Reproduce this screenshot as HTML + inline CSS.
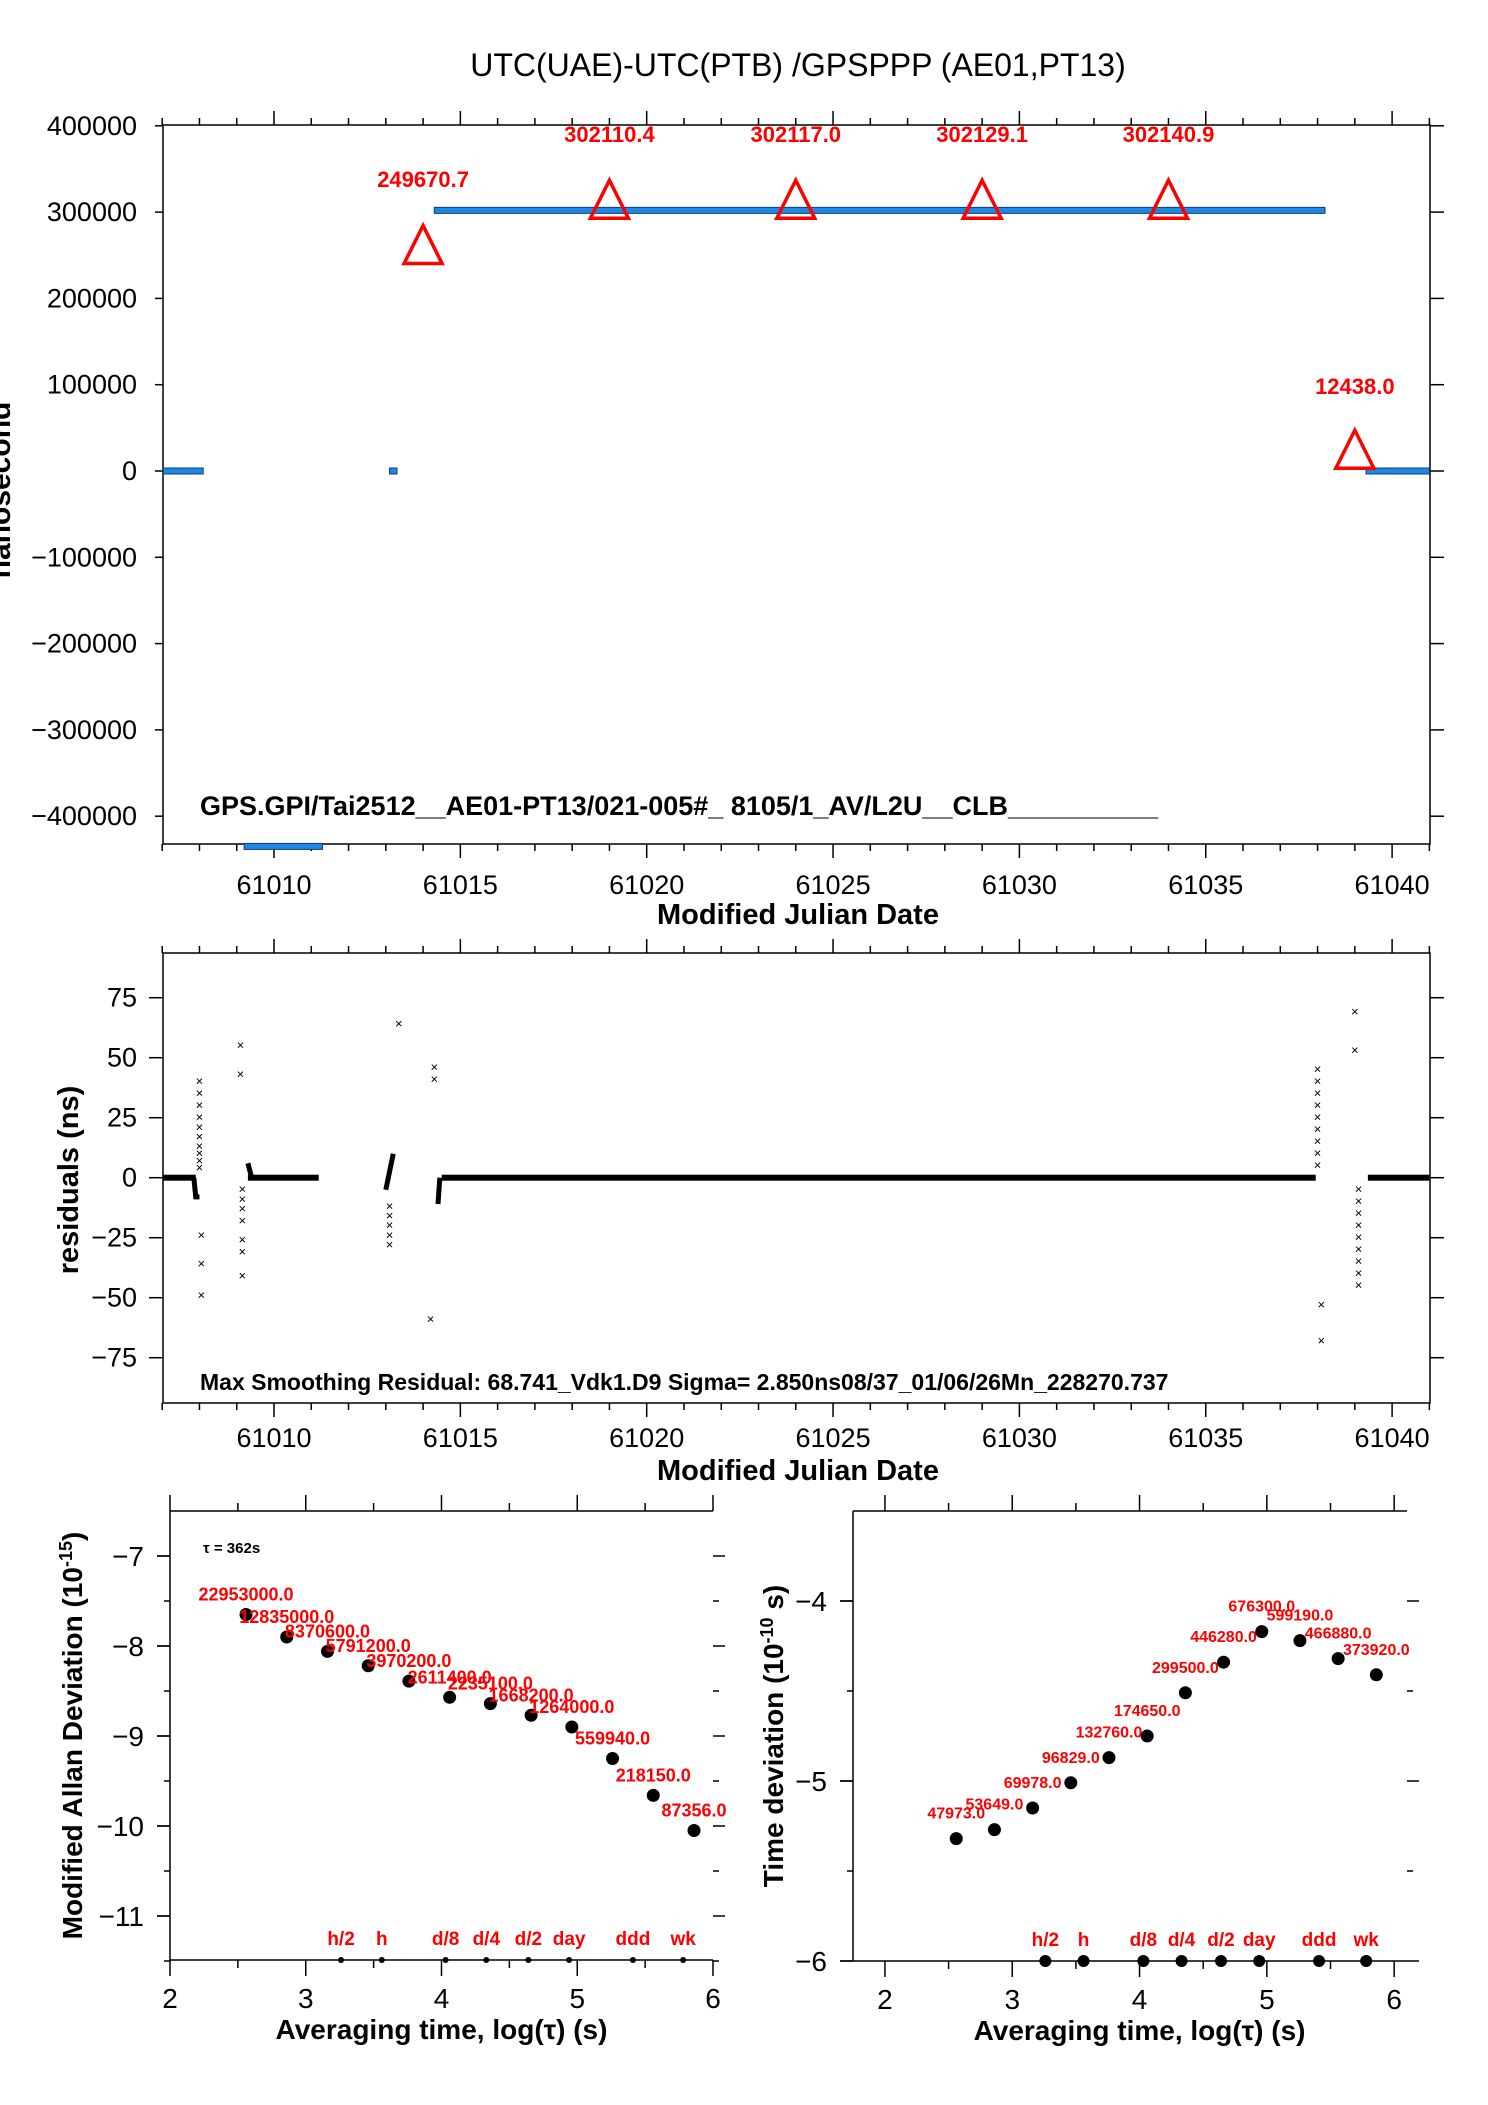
<!DOCTYPE html>
<html><head><meta charset="utf-8"><style>
html,body{margin:0;padding:0;background:#fff}
svg{display:block;font-family:"Liberation Sans",sans-serif}
</style></head><body>
<svg id="s" width="1488" height="2105" viewBox="0 0 1488 2105" xmlns="http://www.w3.org/2000/svg">
<text x="798" y="76" font-size="32" text-anchor="middle">UTC(UAE)-UTC(PTB)  /GPSPPP  (AE01,PT13)</text>
</svg>
<script>
// ---------- data ----------
const topSegX0=[61007.03,61013.1,61014.3,61039.3,61009.2];
const topSegX1=[61008.1,61013.3,61038.2,61041.0,61011.3];
const topSegY=[0,0,302000,0,-435000];
const triX=[61014,61019,61024,61029,61034,61039];
const triY=[249670.7,302110.4,302117.0,302129.1,302140.9,12438.0];
const triLabels=["249670.7","302110.4","302117.0","302129.1","302140.9","12438.0"];
const topYTicks=[400000,300000,200000,100000,0,-100000,-200000,-300000,-400000];
const mjdTicks=[61010,61015,61020,61025,61030,61035,61040];
const resSegX0=[61007.03,61009.3,61014.5,61039.35];
const resSegX1=[61007.9,61011.2,61037.95,61041.0];
const outX=[61008,61008,61008,61008,61008,61008,61008,61008,61008,61008,61008.05,61008.05,61008.05,
61009.1,61009.1,61009.15,61009.15,61009.15,61009.15,61009.15,61009.15,61009.15,
61013.1,61013.1,61013.1,61013.1,61013.1,61013.35,61014.3,61014.3,61014.2,
61038,61038,61038,61038,61038,61038,61038,61038,61038,61038.1,61038.1,
61039,61039,61039.1,61039.1,61039.1,61039.1,61039.1,61039.1,61039.1,61039.1,61039.1];
const outY=[40,35,30,25,21,17,13,10,7,4,-24,-36,-49,
55,43,-5,-9,-13,-18,-26,-31,-41,
-12,-16,-20,-24,-28,64,46,41,-59,
45,40,35,30,25,20,15,10,5,-53,-68,
69,53,-5,-10,-15,-20,-25,-30,-35,-40,-45];
const resYTicks=[75,50,25,0,-25,-50,-75];
const logTau=[2.56,2.86,3.16,3.46,3.76,4.06,4.36,4.66,4.96,5.26,5.56,5.86];
const madev=[-7.65,-7.9,-8.06,-8.22,-8.39,-8.57,-8.64,-8.77,-8.9,-9.25,-9.66,-10.05];
const madevLabels=["22953000.0","12835000.0","8370600.0","5791200.0","3970200.0","2611400.0","2235100.0","1668200.0","1264000.0","559940.0","218150.0","87356.0"];
const tdev=[-5.32,-5.27,-5.15,-5.01,-4.87,-4.75,-4.51,-4.34,-4.17,-4.22,-4.32,-4.41];
const tdevLabels=["47973.0","53649.0","69978.0","96829.0","132760.0","174650.0","299500.0","446280.0","676300.0","599190.0","466880.0","373920.0"];
const markX=[3.26,3.56,4.03,4.33,4.64,4.94,5.41,5.78];
const markLabels=["h/2","h","d/8","d/4","d/2","day","ddd","wk"];
const logTicks=[2,3,4,5,6];
const adevYTicks=[-7,-8,-9,-10,-11];
const tdevYTicks=[-4,-5,-6];

// ---------- helpers ----------
const S=document.getElementById('s');const NS="http://www.w3.org/2000/svg";
function mk(t,a,txt){const e=document.createElementNS(NS,t);for(const k in a)e.setAttribute(k,a[k]);if(txt!==undefined)e.textContent=txt;S.appendChild(e);return e;}
function ln(x1,y1,x2,y2,c,w){return mk('line',{x1,y1,x2,y2,stroke:c||'#000','stroke-width':w||1.5});}
const fmt=v=>(v<0?'\u2212':'')+Math.abs(v);

// ---------- top plot ----------
const T={l:163,r:1430,t:125,b:844};
const tx=m=>274+(m-61010)*37.27;
const ty=v=>471-v*0.000863;
let e=mk('rect',{x:T.l,y:T.t,width:T.r-T.l,height:T.b-T.t,fill:'none',stroke:'#000','stroke-width':1.5});

for(let m=61007;m<=61041;m++){const x=tx(m);if(x<T.l-1||x>T.r+1)continue;const big=m%5==0;
 ln(x,T.t,x,T.t-(big?14:7));ln(x,T.b,x,T.b+(big?14:7));}
mjdTicks.forEach(m=>{e=mk('text',{x:tx(m),y:894,'font-size':27,'text-anchor':'middle'},m);
 });
topYTicks.forEach(v=>{const y=ty(v);ln(T.l-8,y,T.l,y);ln(T.r,y,T.r+14,y);
 e=mk('text',{x:T.l-26,y:y+9,'font-size':27,'text-anchor':'end'},fmt(v));
 });
for(let i=0;i<topSegY.length;i++){e=mk('rect',{x:tx(topSegX0[i]),y:ty(topSegY[i])-3,width:tx(topSegX1[i])-tx(topSegX0[i]),height:6,fill:'#1e88e5',stroke:'#0d3d80','stroke-width':1});
 }
for(let i=0;i<triX.length;i++){const x=tx(triX[i]),y=ty(triY[i]);
 e=mk('polygon',{points:`${x},${y-30} ${x-19},${y+8} ${x+19},${y+8}`,fill:'none',stroke:'#ff0000','stroke-width':3.5});
 
 const ly=i==0?187:(i==5?394:142);
 e=mk('text',{x:x,y:ly,'font-size':22,'font-weight':'bold',fill:'#ff0000','text-anchor':'middle'},triLabels[i]);
 }
e=mk('text',{x:200,y:815,'font-size':27,'font-weight':'bold'},"GPS.GPI/Tai2512__AE01-PT13/021-005#_  8105/1_AV/L2U__CLB__________");

e=mk('text',{x:0,y:0,'font-size':30,'font-weight':'bold','text-anchor':'middle',transform:'translate(10,490) rotate(-90)'},'nanosecond');

e=mk('text',{x:798,y:924,'font-size':29,'font-weight':'bold','text-anchor':'middle'},'Modified Julian Date');


// ---------- residual plot ----------
const R={l:163,r:1430,t:953,b:1403};
const ry=v=>1177.7-v*2.4;
e=mk('rect',{x:R.l,y:R.t,width:R.r-R.l,height:R.b-R.t,fill:'none',stroke:'#000','stroke-width':1.5});

for(let m=61007;m<=61041;m++){const x=tx(m);if(x<R.l-1||x>R.r+1)continue;const big=m%5==0;
 ln(x,R.t,x,R.t-(big?14:7));ln(x,R.b,x,R.b+(big?14:7));}
mjdTicks.forEach(m=>{e=mk('text',{x:tx(m),y:1447,'font-size':27,'text-anchor':'middle'},m);
 });
resYTicks.forEach(v=>{const y=ry(v);ln(R.l-14,y,R.l,y);ln(R.r,y,R.r+14,y);
 e=mk('text',{x:R.l-26,y:y+9,'font-size':27,'text-anchor':'end'},fmt(v));
 });
for(let i=0;i<resSegX0.length;i++){e=mk('rect',{x:tx(resSegX0[i]),y:ry(0)-3,width:tx(resSegX1[i])-tx(resSegX0[i]),height:6,fill:'#000'});
 }
e=mk('polyline',{points:`${tx(61007.85)},${ry(0)} ${tx(61007.9)},${ry(-8)} ${tx(61008.0)},${ry(-8)}`,fill:'none',stroke:'#000','stroke-width':5});

e=mk('polyline',{points:`${tx(61009.3)},${ry(6)} ${tx(61009.4)},${ry(0)}`,fill:'none',stroke:'#000','stroke-width':5});

e=mk('polyline',{points:`${tx(61013.0)},${ry(-5)} ${tx(61013.2)},${ry(10)}`,fill:'none',stroke:'#000','stroke-width':5});

e=mk('polyline',{points:`${tx(61014.4)},${ry(-11)} ${tx(61014.45)},${ry(0)}`,fill:'none',stroke:'#000','stroke-width':5});

for(let i=0;i<outX.length;i++){const x=tx(outX[i]),y=ry(outY[i]);
 e=mk('text',{x:x,y:y+4,'font-size':13,'text-anchor':'middle'},'\u00d7');
 }
e=mk('text',{x:200,y:1390,'font-size':23,'font-weight':'bold'},"Max Smoothing Residual: 68.741_Vdk1.D9  Sigma= 2.850ns08/37_01/06/26Mn_228270.737");

e=mk('text',{x:0,y:0,'font-size':29,'font-weight':'bold','text-anchor':'middle',transform:'translate(78,1180) rotate(-90)'},'residuals (ns)');

e=mk('text',{x:798,y:1480,'font-size':29,'font-weight':'bold','text-anchor':'middle'},'Modified Julian Date');


// ---------- stability plots ----------
function stab(P,yticks,vals,labels,name,ylab,ylx,fs,dy,big){
 const X=v=>P.l+(v-P.xmin)*P.kx, Y=v=>P.y0-(v-P.v0)*P.ky;
 ln(P.l,P.t,P.r,P.t);ln(P.l,P.t,P.l,P.b);ln(P.l,P.b,P.r,P.b);
 for(let v=2;v<=6;v+=0.5){const x=X(v);ln(x,P.t,x,P.t-(v%1==0?16:8));ln(x,P.b,x,P.b+(v%1==0?16:8));}
 logTicks.forEach(v=>{e=mk('text',{x:X(v),y:P.b+48,'font-size':28,'text-anchor':'middle'},v);
  });
 for(let v=yticks[0]+1;v>=yticks[yticks.length-1]-1;v-=0.5){const y=Y(v);if(y<P.t+2||y>P.b+1)continue;
  const maj=v%1==0;ln(P.r,y,P.r+(maj?12:6),y);ln(P.l-(maj?13:6),y,P.l,y);}
 yticks.forEach(v=>{const y=Y(v);ln(P.l-13,y,P.l,y);
  e=mk('text',{x:P.l-26,y:y+10,'font-size':28,'text-anchor':'end'},fmt(v));
  });
 for(let i=0;i<logTau.length;i++){e=mk('circle',{cx:X(logTau[i]),cy:Y(vals[i]),r:6.5,fill:'#000'});
  
  e=mk('text',{x:X(logTau[i]),y:Y(vals[i])-dy,'font-size':fs,'font-weight':'bold',fill:'#ff0000','text-anchor':'middle'},labels[i]);
  }
 markX.forEach((v,i)=>{e=mk('circle',{cx:X(v),cy:P.b,r:big?6:3,fill:'#000'});
  
  e=mk('text',{x:X(v),y:P.b-15,'font-size':19,'font-weight':'bold',fill:'#ff0000','text-anchor':'middle'},markLabels[i]);
  });
 e=mk('text',{x:(X(2)+X(6))/2,y:P.b+79,'font-size':28,'font-weight':'bold','text-anchor':'middle'},'Averaging time, log(\u03c4) (s)');
 
 e=mk('text',{x:0,y:0,'font-size':28,'font-weight':'bold','text-anchor':'middle',transform:`translate(${ylx},${(P.t+P.b)/2}) rotate(-90)`});
 e.innerHTML=ylab;
 
}
const PA={l:170,r:713,t:1511,b:1960,xmin:2,kx:135.75,y0:1556,v0:-7,ky:90};
stab(PA,adevYTicks,madev,madevLabels,'madev','Modified Allan Deviation (10<tspan font-size="18" dy="-10">-15</tspan><tspan dy="10">)</tspan>',82,18,14,false);
const PT={l:853,r:1407,t:1511,b:1961,xmin:1.749,kx:127.3,y0:1601,v0:-4,ky:180};
stab(PT,tdevYTicks,tdev,tdevLabels,'tdev','Time deviation (10<tspan font-size="18" dy="-10">-10</tspan><tspan dy="10"> s)</tspan>',783,16,20,true);
e=mk('text',{x:203,y:1553,'font-size':15,'font-weight':'bold'},'\u03c4 = 362s');

</script>
</body></html>
